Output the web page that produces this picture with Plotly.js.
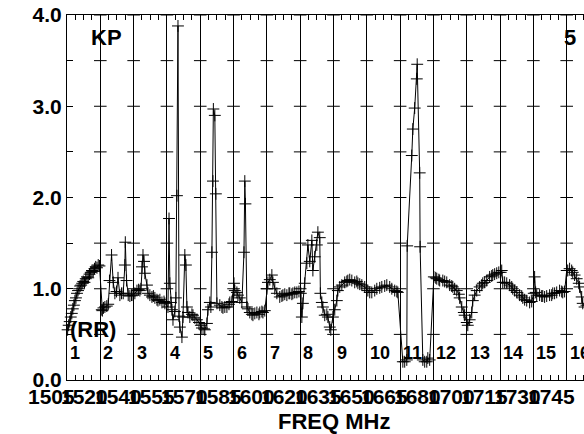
<!DOCTYPE html>
<html>
<head>
<meta charset="utf-8">
<script src="https://cdn.plot.ly/plotly-3.0.1.min.js"></script>
<style>
html,body{margin:0;padding:0;overflow:hidden;background:#fff;width:584px;height:434px;}
#chart{width:620px;height:434px;}
</style>
</head>
<body>
<div id="chart"></div>
<script>
// Band edge frequencies (MHz) and their printed labels
const bandEdges = [1505,1521,1537,1553,1569,1585,1601,1617,1633,1649,1665,1681,1697,1713,1729,1745,1761];
const tickLabels = ['1505','1520','1540','1555','1570','1585','1600','1620','1635','1650','1665','1680','1700','1715','1730','1745'];
const bandNames = ['1','2','3','4','5','6','7','8','9','10','11','12','13','14','15','16'];
const yTickVals = [0,0.5,1,1.5,2,2.5,3,3.5,4];
const yTickText = ['<b>0.0</b>','','<b>1.0</b>','','<b>2.0</b>','','<b>3.0</b>','','<b>4.0</b>'];

// Measured series: frequency (MHz) and KP value
const freqMHz = [
 1505.3,1505.8,1506.3,1506.8,1507.3,1507.8,1508.3,1508.8,1509.3,1509.8,1510.3,1510.8,1511.3,1511.8,1512.3,1512.8,1513.4,1514.0,1514.6,1515.2,1515.8,1516.4,1517.0,1517.6,1518.2,1518.8,1519.4,1520.0,1520.6,
 1521.7,1522.0,1522.5,1523.2,1524.1,1524.8,1525.4,1526.4,1527.2,1528.0,1528.8,1529.5,1530.4,1531.2,1532.0,1532.8,1533.0,1533.6,1534.4,1535.2,1536.0,
 1536.7,1537.6,1538.6,1539.4,1540.0,1540.5,1541.0,1541.5,1542.0,1542.4,1543.4,1543.9,1544.8,1545.8,1546.5,1547.2,1548.2,1548.7,1549.6,1550.6,1551.6,1552.0,
 1553.5,1554.0,1554.4,1554.9,1555.4,1555.9,1556.8,1557.3,1557.8,1558.3,1558.8,1559.2,1560.2,1560.7,1561.6,1562.1,1562.6,1563.1,1564.0,1565.0,1565.5,1566.4,1567.4,1568.4,
 1569.3,1569.8,1570.8,1571.2,1572.2,1572.7,1573.6,1574.1,1574.6,1575.1,1575.3,1576.0,1576.5,1577.0,1578.4,1579.4,1579.9,1580.8,1581.8,1582.8,1583.2,1584.2,
 1585.2,1585.6,1586.6,1587.1,1588.0,1589.0,1590.0,1590.4,1590.7,1591.4,1591.9,1592.8,1593.8,1594.3,1595.2,1596.2,1597.2,1597.6,1598.6,1599.1,1600.0,
 1601.0,1601.5,1602.4,1603.4,1603.9,1604.8,1605.8,1607.2,1608.2,1608.7,1609.6,1610.6,1611.6,1612.0,1613.0,1613.5,1614.4,1615.4,1616.4,
 1617.3,1617.8,1618.3,1619.2,1620.2,1620.7,1621.6,1622.6,1623.1,1624.0,1625.0,1625.5,1626.4,1626.7,1627.4,1627.9,1628.8,1629.8,1630.3,1631.2,1631.7,
 1632.7,1633.6,1634.6,1635.1,1636.0,1637.0,1638.4,1639.4,1639.9,1640.8,1641.8,1643.2,1644.2,1644.7,1645.6,1646.6,1648.0,
 1649.5,1650.4,1651.4,1652.8,1653.8,1655.2,1656.2,1657.6,1658.6,1660.0,1661.0,1662.4,1663.4,1663.9,
 1666.3,1667.2,1668.2,1668.4,1670.6,1671.1,1672.0,1673.0,1673.2,1674.4,1674.6,1675.9,1676.8,1677.8,1678.3,1679.2,
 1681.2,1682.1,1682.6,1683.6,1684.0,1685.5,1686.4,1687.4,1688.8,1689.8,1690.3,1691.2,1692.2,1693.2,1693.6,1694.6,1695.6,1696.0,1697.0,1697.5,
 1698.4,1699.4,1699.9,1700.8,1701.8,1703.2,1704.2,1704.7,1705.6,1706.6,1708.0,1709.0,1709.5,1710.4,1711.4,1712.4,
 1713.3,1713.8,1714.3,1715.2,1716.2,1717.6,1718.6,1719.1,1720.0,1721.0,1722.4,1723.4,1723.9,1724.8,1725.8,1727.2,1728.2,
 1729.2,1729.6,1730.1,1730.6,1732.0,1733.0,1733.5,1734.4,1735.4,1736.8,1737.8,1738.3,1739.2,1740.2,1741.6,1742.6,1743.1,1744.0,
 1745.0,1745.5,1746.4,1747.4,1747.9,1748.8,1749.8,1750.8,1751.2,1752.2,1752.7,1753.6,1754.5
];
const kpValues = [
 0.55,0.60,0.64,0.69,0.73,0.78,0.82,0.87,0.90,0.95,0.98,1.00,1.03,1.04,1.06,1.08,1.07,1.11,1.13,1.12,1.16,1.18,1.20,1.19,1.22,1.24,1.23,1.26,1.25,
 0.77,0.76,0.79,0.80,0.81,0.83,1.09,1.37,1.07,0.95,0.97,1.12,0.93,0.95,0.95,1.26,1.51,1.09,0.93,0.92,0.93,
 0.93,0.95,0.98,0.99,0.98,1.00,1.24,1.37,1.30,1.17,1.04,0.95,0.93,0.91,0.92,0.90,0.88,0.87,0.88,0.85,0.86,0.84,
 0.80,1.77,1.06,0.85,0.77,0.66,0.75,0.90,2.02,3.88,0.70,0.58,0.47,0.69,1.37,1.26,0.80,0.74,0.69,0.72,0.71,0.68,0.66,0.63,
 0.60,0.57,0.56,0.55,0.62,0.77,0.85,0.80,1.40,2.18,2.97,2.90,2.04,0.84,0.82,0.80,0.79,0.80,0.80,0.83,0.85,0.86,
 1.06,0.98,0.96,0.93,0.90,0.85,1.40,2.18,1.93,0.80,0.78,0.74,0.72,0.71,0.73,0.74,0.72,0.74,0.75,0.74,0.76,
 1.00,1.07,1.10,1.15,1.07,1.00,0.95,0.91,0.92,0.93,0.94,0.93,0.95,0.95,0.94,0.95,0.96,0.96,0.97,
 0.95,0.69,0.84,1.06,1.28,1.48,1.30,1.53,1.20,1.35,1.48,1.62,1.56,0.95,0.85,0.80,0.71,0.72,0.69,0.58,0.55,
 0.69,0.77,0.87,0.98,1.02,1.04,1.07,1.08,1.09,1.10,1.09,1.07,1.08,1.06,1.05,1.04,1.02,
 0.98,0.96,0.96,0.98,1.00,1.01,1.02,1.03,1.04,1.02,1.00,0.98,0.97,0.96,
 0.20,0.20,0.22,1.47,2.46,2.75,2.98,3.30,3.46,2.27,1.46,0.22,0.20,0.20,0.24,0.22,
 1.13,1.12,1.11,1.10,1.09,1.09,1.08,1.07,1.04,1.03,1.02,1.00,0.98,0.94,0.90,0.80,0.74,0.71,0.63,0.60,
 0.66,0.74,0.87,0.93,0.98,1.02,1.04,1.06,1.07,1.09,1.13,1.14,1.15,1.16,1.17,1.18,
 1.18,1.20,1.07,1.07,1.06,1.04,1.02,1.00,0.98,0.96,0.93,0.92,0.90,0.88,0.87,0.85,0.86,
 0.95,1.13,0.96,0.93,0.93,0.92,0.92,0.91,0.92,0.93,0.93,0.95,0.95,0.96,0.98,0.97,0.96,0.97,
 1.20,1.20,1.22,1.20,1.18,1.15,1.11,1.06,1.02,0.91,0.84,0.80,0.82
];

const FONT = 'Arial, "Liberation Sans", sans-serif';
const B = s => '<b>' + s + '</b>';

// grid cross marks at every y tick on each interior band edge
const crossX = [], crossY = [];
for (let i = 1; i < bandEdges.length - 1; i++) {
  for (let j = 1; j < yTickVals.length; j++) { crossX.push(bandEdges[i]); crossY.push(yTickVals[j]); }
}

const traces = [
  {x: crossX, y: crossY, xaxis: 'x2', type: 'scatter', mode: 'markers', hoverinfo: 'skip', cliponaxis: false,
   marker: {symbol: 'line-ew', size: 9, color: '#000', line: {color: '#000', width: 1}}},
  {x: freqMHz, y: kpValues, type: 'scatter', mode: 'lines+markers', cliponaxis: false,
   line: {color: '#000', width: 1},
   marker: {symbol: 'cross-thin', size: 8.5, color: '#000', line: {color: '#000', width: 1}}}
];

const annotations = [];
for (let i = 0; i < tickLabels.length; i++) {
  annotations.push({x: bandEdges[i], xref: 'x', y: 0, yref: 'paper', yanchor: 'top', xanchor: 'right',
    xshift: 10, yshift: -3, showarrow: false, text: B(tickLabels[i]),
    font: {family: FONT, size: 21, color: '#000'}});
  annotations.push({x: bandEdges[i], xref: 'x', y: 0.3, yref: 'y', xanchor: 'left', yanchor: 'middle',
    xshift: 1, showarrow: false, text: B(bandNames[i]),
    font: {family: FONT, size: 18, color: '#000'}});
}
annotations.push({x: 0.5, xref: 'paper', y: 0, yref: 'paper', yanchor: 'middle', xanchor: 'center', yshift: -41,
  borderpad: 0, showarrow: false, text: B('FREQ MHz'), font: {family: FONT, size: 22, color: '#000'}});
annotations.push({x: bandEdges[0], xref: 'x', y: 0.55, yref: 'y', xanchor: 'left', yanchor: 'middle', xshift: 1,
  showarrow: false, text: B('(RR)'), font: {family: FONT, size: 22, color: '#000'}});
annotations.push({x: bandEdges[0], xref: 'x', y: 3.75, yref: 'y', xanchor: 'left', yanchor: 'middle', xshift: 22,
  showarrow: false, text: B('KP'), font: {family: FONT, size: 22, color: '#000'}});
annotations.push({x: bandEdges[15], xref: 'x', y: 3.75, yref: 'y', xanchor: 'left', yanchor: 'middle', xshift: -5,
  showarrow: false, text: B('5'), font: {family: FONT, size: 22, color: '#000'}});

const xRange = [bandEdges[0], bandEdges[bandEdges.length - 1]];
const layout = {
  width: 620, height: 434,
  margin: {l: 67, r: 20, t: 15, b: 54, pad: 0},
  paper_bgcolor: '#fff', plot_bgcolor: '#fff',
  showlegend: false,
  xaxis: {range: xRange, tickvals: bandEdges, showticklabels: false,
    showgrid: true, gridcolor: '#000', gridwidth: 1, zeroline: false,
    showline: true, linecolor: '#000', linewidth: 1,
    ticks: 'inside', ticklen: 5, tickcolor: '#000',
    minor: {dtick: 4, tick0: 1505, ticks: 'inside', ticklen: 5, tickcolor: '#000', showgrid: false}},
  xaxis2: {range: xRange, overlaying: 'x', side: 'top', anchor: 'y', tickvals: bandEdges, showticklabels: false,
    showgrid: false, zeroline: false, showline: true, linecolor: '#000', linewidth: 1,
    ticks: 'inside', ticklen: 5, tickcolor: '#000',
    minor: {dtick: 4, tick0: 1505, ticks: 'inside', ticklen: 5, tickcolor: '#000', showgrid: false}},
  yaxis: {range: [0, 4], tickvals: yTickVals, ticktext: yTickText, showgrid: false, zeroline: false,
    showline: true, linecolor: '#000', linewidth: 1,
    ticks: 'inside', ticklen: 6, tickcolor: '#000',
    tickfont: {family: FONT, size: 21, color: '#000'}},
  annotations: annotations
};

Plotly.newPlot('chart', traces, layout, {staticPlot: true, displayModeBar: false});
</script>
</body>
</html>
